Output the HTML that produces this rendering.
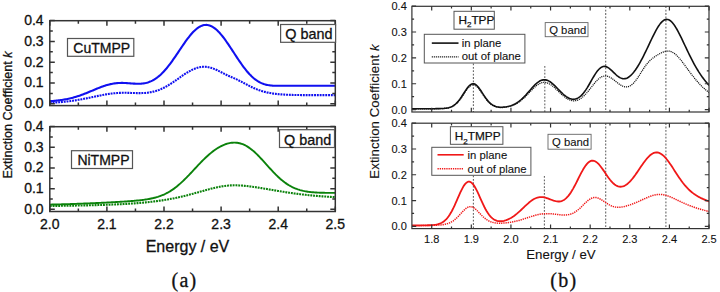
<!DOCTYPE html><html><head><meta charset="utf-8"><style>html,body{margin:0;padding:0;background:#fff;width:720px;height:292px;overflow:hidden}svg{display:block}</style></head><body>
<svg width="720" height="292" viewBox="0 0 720 292">
<style>text{stroke:#111;stroke-width:0.3px}text.r{stroke-width:0.1px}</style>
<rect width="720" height="292" fill="#fff"/>
<defs><clipPath id="cl1"><rect x="49.80" y="20.70" width="285.50" height="84.90"/></clipPath>
<clipPath id="cl2"><rect x="49.80" y="126.70" width="285.50" height="84.80"/></clipPath>
<clipPath id="cr1"><rect x="411.90" y="6.30" width="297.10" height="105.70"/></clipPath>
<clipPath id="cr2"><rect x="411.90" y="123.20" width="297.10" height="105.40"/></clipPath></defs>
<g clip-path="url(#cl1)">
<path d="M49.80,102.86 L50.90,102.80 L52.00,102.74 L53.11,102.68 L54.21,102.62 L55.31,102.54 L56.41,102.47 L57.52,102.39 L58.62,102.31 L59.72,102.22 L60.82,102.12 L61.93,102.02 L63.03,101.92 L64.13,101.81 L65.23,101.69 L66.33,101.57 L67.44,101.44 L68.54,101.31 L69.64,101.17 L70.74,101.03 L71.85,100.88 L72.95,100.72 L74.05,100.55 L75.15,100.39 L76.26,100.21 L77.36,100.03 L78.46,99.84 L79.56,99.65 L80.66,99.45 L81.77,99.25 L82.87,99.05 L83.97,98.83 L85.07,98.62 L86.18,98.40 L87.28,98.18 L88.38,97.95 L89.48,97.72 L90.59,97.49 L91.69,97.26 L92.79,97.03 L93.89,96.80 L94.99,96.56 L96.10,96.33 L97.20,96.10 L98.30,95.87 L99.40,95.65 L100.51,95.43 L101.61,95.21 L102.71,95.00 L103.81,94.79 L104.92,94.59 L106.02,94.40 L107.12,94.22 L108.22,94.05 L109.33,93.88 L110.43,93.73 L111.53,93.58 L112.63,93.45 L113.73,93.33 L114.84,93.22 L115.94,93.13 L117.04,93.05 L118.14,92.98 L119.25,92.92 L120.35,92.87 L121.45,92.84 L122.55,92.82 L123.66,92.81 L124.76,92.81 L125.86,92.81 L126.96,92.83 L128.06,92.85 L129.17,92.88 L130.27,92.91 L131.37,92.94 L132.47,92.98 L133.58,93.01 L134.68,93.05 L135.78,93.07 L136.88,93.10 L137.99,93.11 L139.09,93.12 L140.19,93.11 L141.29,93.10 L142.39,93.06 L143.50,93.02 L144.60,92.95 L145.70,92.87 L146.80,92.76 L147.91,92.64 L149.01,92.49 L150.11,92.31 L151.21,92.11 L152.32,91.89 L153.42,91.63 L154.52,91.35 L155.62,91.04 L156.72,90.69 L157.83,90.32 L158.93,89.92 L160.03,89.48 L161.13,89.02 L162.24,88.52 L163.34,88.00 L164.44,87.45 L165.54,86.87 L166.65,86.26 L167.75,85.62 L168.85,84.97 L169.95,84.28 L171.05,83.58 L172.16,82.86 L173.26,82.13 L174.36,81.38 L175.46,80.61 L176.57,79.84 L177.67,79.07 L178.77,78.29 L179.87,77.51 L180.98,76.73 L182.08,75.96 L183.18,75.20 L184.28,74.46 L185.38,73.73 L186.49,73.02 L187.59,72.34 L188.69,71.68 L189.79,71.05 L190.90,70.45 L192.00,69.90 L193.10,69.38 L194.20,68.90 L195.31,68.46 L196.41,68.08 L197.51,67.74 L198.61,67.45 L199.72,67.21 L200.82,67.02 L201.92,66.89 L203.02,66.81 L204.12,66.79 L205.23,66.82 L206.33,66.91 L207.43,67.05 L208.53,67.24 L209.64,67.48 L210.74,67.76 L211.84,68.10 L212.94,68.47 L214.05,68.89 L215.15,69.34 L216.25,69.82 L217.35,70.32 L218.45,70.85 L219.56,71.40 L220.66,71.95 L221.76,72.51 L222.86,73.07 L223.97,73.62 L225.07,74.17 L226.17,74.70 L227.27,75.22 L228.38,75.73 L229.48,76.22 L230.58,76.70 L231.68,77.18 L232.78,77.66 L233.89,78.14 L234.99,78.63 L236.09,79.13 L237.19,79.64 L238.30,80.17 L239.40,80.72 L240.50,81.28 L241.60,81.85 L242.71,82.43 L243.81,83.01 L244.91,83.60 L246.01,84.19 L247.11,84.77 L248.22,85.35 L249.32,85.91 L250.42,86.46 L251.52,86.99 L252.63,87.51 L253.73,88.01 L254.83,88.49 L255.93,88.95 L257.04,89.39 L258.14,89.81 L259.24,90.20 L260.34,90.58 L261.44,90.93 L262.55,91.26 L263.65,91.58 L264.75,91.87 L265.85,92.14 L266.96,92.40 L268.06,92.64 L269.16,92.86 L270.26,93.06 L271.37,93.25 L272.47,93.43 L273.57,93.59 L274.67,93.74 L275.77,93.88 L276.88,94.00 L277.98,94.11 L279.08,94.22 L280.18,94.31 L281.29,94.40 L282.39,94.48 L283.49,94.55 L284.59,94.62 L285.70,94.68 L286.80,94.73 L287.90,94.78 L289.00,94.82 L290.11,94.86 L291.21,94.89 L292.31,94.92 L293.41,94.95 L294.51,94.97 L295.62,95.00 L296.72,95.02 L297.82,95.03 L298.92,95.05 L300.03,95.06 L301.13,95.08 L302.23,95.09 L303.33,95.10 L304.44,95.11 L305.54,95.11 L306.64,95.12 L307.74,95.13 L308.84,95.13 L309.95,95.14 L311.05,95.14 L312.15,95.14 L313.25,95.15 L314.36,95.15 L315.46,95.15 L316.56,95.15 L317.66,95.16 L318.77,95.16 L319.87,95.16 L320.97,95.16 L322.07,95.16 L323.17,95.17 L324.28,95.17 L325.38,95.17 L326.48,95.17 L327.58,95.17 L328.69,95.17 L329.79,95.17 L330.89,95.17 L331.99,95.17 L333.10,95.17 L334.20,95.17 L335.30,95.18" stroke="#1010f0" stroke-width="2.1" fill="none" stroke-dasharray="1.9 0.9"/>
<path d="M49.80,101.17 L50.90,101.10 L52.00,101.02 L53.11,100.93 L54.21,100.84 L55.31,100.74 L56.41,100.63 L57.52,100.51 L58.62,100.38 L59.72,100.24 L60.82,100.09 L61.93,99.93 L63.03,99.76 L64.13,99.58 L65.23,99.39 L66.33,99.18 L67.44,98.96 L68.54,98.72 L69.64,98.48 L70.74,98.22 L71.85,97.94 L72.95,97.65 L74.05,97.35 L75.15,97.03 L76.26,96.70 L77.36,96.36 L78.46,96.00 L79.56,95.63 L80.66,95.24 L81.77,94.85 L82.87,94.44 L83.97,94.02 L85.07,93.59 L86.18,93.16 L87.28,92.71 L88.38,92.26 L89.48,91.80 L90.59,91.34 L91.69,90.88 L92.79,90.41 L93.89,89.95 L94.99,89.49 L96.10,89.03 L97.20,88.57 L98.30,88.12 L99.40,87.69 L100.51,87.26 L101.61,86.84 L102.71,86.44 L103.81,86.05 L104.92,85.68 L106.02,85.33 L107.12,85.00 L108.22,84.69 L109.33,84.41 L110.43,84.14 L111.53,83.91 L112.63,83.70 L113.73,83.51 L114.84,83.35 L115.94,83.21 L117.04,83.11 L118.14,83.02 L119.25,82.97 L120.35,82.93 L121.45,82.92 L122.55,82.92 L123.66,82.95 L124.76,82.99 L125.86,83.05 L126.96,83.11 L128.06,83.19 L129.17,83.27 L130.27,83.35 L131.37,83.44 L132.47,83.52 L133.58,83.59 L134.68,83.66 L135.78,83.71 L136.88,83.74 L137.99,83.75 L139.09,83.74 L140.19,83.70 L141.29,83.63 L142.39,83.52 L143.50,83.38 L144.60,83.20 L145.70,82.98 L146.80,82.71 L147.91,82.39 L149.01,82.02 L150.11,81.60 L151.21,81.12 L152.32,80.59 L153.42,79.99 L154.52,79.34 L155.62,78.63 L156.72,77.86 L157.83,77.03 L158.93,76.13 L160.03,75.17 L161.13,74.16 L162.24,73.08 L163.34,71.94 L164.44,70.75 L165.54,69.51 L166.65,68.21 L167.75,66.86 L168.85,65.46 L169.95,64.02 L171.05,62.54 L172.16,61.02 L173.26,59.47 L174.36,57.89 L175.46,56.29 L176.57,54.67 L177.67,53.04 L178.77,51.40 L179.87,49.75 L180.98,48.12 L182.08,46.49 L183.18,44.88 L184.28,43.29 L185.38,41.72 L186.49,40.20 L187.59,38.71 L188.69,37.27 L189.79,35.88 L190.90,34.55 L192.00,33.29 L193.10,32.09 L194.20,30.98 L195.31,29.94 L196.41,28.99 L197.51,28.13 L198.61,27.36 L199.72,26.69 L200.82,26.13 L201.92,25.67 L203.02,25.31 L204.12,25.07 L205.23,24.93 L206.33,24.91 L207.43,24.99 L208.53,25.19 L209.64,25.50 L210.74,25.92 L211.84,26.44 L212.94,27.07 L214.05,27.79 L215.15,28.62 L216.25,29.54 L217.35,30.55 L218.45,31.64 L219.56,32.81 L220.66,34.06 L221.76,35.38 L222.86,36.76 L223.97,38.20 L225.07,39.70 L226.17,41.24 L227.27,42.81 L228.38,44.43 L229.48,46.07 L230.58,47.73 L231.68,49.41 L232.78,51.10 L233.89,52.79 L234.99,54.48 L236.09,56.16 L237.19,57.83 L238.30,59.48 L239.40,61.11 L240.50,62.70 L241.60,64.27 L242.71,65.80 L243.81,67.28 L244.91,68.72 L246.01,70.11 L247.11,71.45 L248.22,72.73 L249.32,73.95 L250.42,75.11 L251.52,76.20 L252.63,77.24 L253.73,78.20 L254.83,79.10 L255.93,79.93 L257.04,80.70 L258.14,81.40 L259.24,82.03 L260.34,82.61 L261.44,83.12 L262.55,83.57 L263.65,83.97 L264.75,84.31 L265.85,84.61 L266.96,84.87 L268.06,85.08 L269.16,85.25 L270.26,85.40 L271.37,85.51 L272.47,85.61 L273.57,85.68 L274.67,85.73 L275.77,85.76 L276.88,85.79 L277.98,85.81 L279.08,85.82 L280.18,85.82 L281.29,85.82 L282.39,85.81 L283.49,85.81 L284.59,85.80 L285.70,85.79 L286.80,85.78 L287.90,85.77 L289.00,85.77 L290.11,85.76 L291.21,85.75 L292.31,85.75 L293.41,85.74 L294.51,85.74 L295.62,85.73 L296.72,85.73 L297.82,85.73 L298.92,85.73 L300.03,85.73 L301.13,85.72 L302.23,85.72 L303.33,85.72 L304.44,85.72 L305.54,85.72 L306.64,85.72 L307.74,85.72 L308.84,85.73 L309.95,85.73 L311.05,85.73 L312.15,85.73 L313.25,85.73 L314.36,85.73 L315.46,85.73 L316.56,85.74 L317.66,85.74 L318.77,85.74 L319.87,85.74 L320.97,85.74 L322.07,85.75 L323.17,85.75 L324.28,85.75 L325.38,85.75 L326.48,85.76 L327.58,85.76 L328.69,85.76 L329.79,85.76 L330.89,85.77 L331.99,85.77 L333.10,85.77 L334.20,85.78 L335.30,85.78" stroke="#1010f0" stroke-width="2.1" fill="none"/>
</g><g clip-path="url(#cl2)">
<path d="M49.80,205.96 L50.90,205.95 L52.00,205.94 L53.11,205.92 L54.21,205.91 L55.31,205.90 L56.41,205.88 L57.52,205.87 L58.62,205.85 L59.72,205.84 L60.82,205.82 L61.93,205.81 L63.03,205.79 L64.13,205.77 L65.23,205.76 L66.33,205.74 L67.44,205.72 L68.54,205.70 L69.64,205.69 L70.74,205.67 L71.85,205.65 L72.95,205.63 L74.05,205.61 L75.15,205.59 L76.26,205.57 L77.36,205.55 L78.46,205.53 L79.56,205.51 L80.66,205.49 L81.77,205.46 L82.87,205.44 L83.97,205.42 L85.07,205.39 L86.18,205.37 L87.28,205.34 L88.38,205.32 L89.48,205.29 L90.59,205.27 L91.69,205.24 L92.79,205.21 L93.89,205.18 L94.99,205.15 L96.10,205.12 L97.20,205.09 L98.30,205.06 L99.40,205.03 L100.51,204.99 L101.61,204.96 L102.71,204.92 L103.81,204.89 L104.92,204.85 L106.02,204.81 L107.12,204.77 L108.22,204.73 L109.33,204.69 L110.43,204.65 L111.53,204.61 L112.63,204.56 L113.73,204.52 L114.84,204.47 L115.94,204.42 L117.04,204.37 L118.14,204.32 L119.25,204.27 L120.35,204.21 L121.45,204.16 L122.55,204.10 L123.66,204.04 L124.76,203.98 L125.86,203.92 L126.96,203.85 L128.06,203.79 L129.17,203.72 L130.27,203.65 L131.37,203.57 L132.47,203.50 L133.58,203.42 L134.68,203.34 L135.78,203.26 L136.88,203.17 L137.99,203.09 L139.09,203.00 L140.19,202.90 L141.29,202.81 L142.39,202.71 L143.50,202.61 L144.60,202.50 L145.70,202.39 L146.80,202.28 L147.91,202.17 L149.01,202.05 L150.11,201.93 L151.21,201.80 L152.32,201.68 L153.42,201.54 L154.52,201.41 L155.62,201.27 L156.72,201.12 L157.83,200.97 L158.93,200.82 L160.03,200.66 L161.13,200.50 L162.24,200.34 L163.34,200.16 L164.44,199.99 L165.54,199.81 L166.65,199.63 L167.75,199.44 L168.85,199.24 L169.95,199.04 L171.05,198.84 L172.16,198.63 L173.26,198.42 L174.36,198.20 L175.46,197.97 L176.57,197.74 L177.67,197.51 L178.77,197.27 L179.87,197.02 L180.98,196.77 L182.08,196.52 L183.18,196.26 L184.28,195.99 L185.38,195.72 L186.49,195.45 L187.59,195.17 L188.69,194.89 L189.79,194.60 L190.90,194.31 L192.00,194.01 L193.10,193.71 L194.20,193.41 L195.31,193.11 L196.41,192.80 L197.51,192.49 L198.61,192.18 L199.72,191.87 L200.82,191.55 L201.92,191.24 L203.02,190.93 L204.12,190.62 L205.23,190.31 L206.33,190.00 L207.43,189.69 L208.53,189.39 L209.64,189.10 L210.74,188.81 L211.84,188.52 L212.94,188.25 L214.05,187.98 L215.15,187.72 L216.25,187.47 L217.35,187.23 L218.45,187.00 L219.56,186.79 L220.66,186.59 L221.76,186.40 L222.86,186.22 L223.97,186.06 L225.07,185.92 L226.17,185.79 L227.27,185.67 L228.38,185.57 L229.48,185.49 L230.58,185.42 L231.68,185.37 L232.78,185.34 L233.89,185.32 L234.99,185.31 L236.09,185.32 L237.19,185.34 L238.30,185.38 L239.40,185.43 L240.50,185.49 L241.60,185.56 L242.71,185.65 L243.81,185.74 L244.91,185.84 L246.01,185.96 L247.11,186.08 L248.22,186.20 L249.32,186.34 L250.42,186.48 L251.52,186.62 L252.63,186.78 L253.73,186.93 L254.83,187.09 L255.93,187.26 L257.04,187.43 L258.14,187.60 L259.24,187.77 L260.34,187.95 L261.44,188.13 L262.55,188.31 L263.65,188.49 L264.75,188.68 L265.85,188.86 L266.96,189.05 L268.06,189.24 L269.16,189.43 L270.26,189.61 L271.37,189.80 L272.47,189.99 L273.57,190.18 L274.67,190.37 L275.77,190.55 L276.88,190.74 L277.98,190.92 L279.08,191.11 L280.18,191.29 L281.29,191.47 L282.39,191.65 L283.49,191.82 L284.59,192.00 L285.70,192.17 L286.80,192.34 L287.90,192.51 L289.00,192.68 L290.11,192.84 L291.21,193.00 L292.31,193.16 L293.41,193.31 L294.51,193.46 L295.62,193.61 L296.72,193.76 L297.82,193.90 L298.92,194.04 L300.03,194.18 L301.13,194.32 L302.23,194.45 L303.33,194.58 L304.44,194.70 L305.54,194.82 L306.64,194.94 L307.74,195.06 L308.84,195.17 L309.95,195.29 L311.05,195.39 L312.15,195.50 L313.25,195.60 L314.36,195.70 L315.46,195.80 L316.56,195.89 L317.66,195.99 L318.77,196.08 L319.87,196.16 L320.97,196.25 L322.07,196.33 L323.17,196.41 L324.28,196.49 L325.38,196.57 L326.48,196.64 L327.58,196.71 L328.69,196.78 L329.79,196.85 L330.89,196.92 L331.99,196.98 L333.10,197.04 L334.20,197.10 L335.30,197.16" stroke="#0b820b" stroke-width="2.1" fill="none" stroke-dasharray="1.9 0.9"/>
<path d="M49.80,204.63 L50.90,204.60 L52.00,204.57 L53.11,204.55 L54.21,204.52 L55.31,204.49 L56.41,204.46 L57.52,204.43 L58.62,204.41 L59.72,204.38 L60.82,204.35 L61.93,204.31 L63.03,204.28 L64.13,204.25 L65.23,204.22 L66.33,204.18 L67.44,204.15 L68.54,204.12 L69.64,204.08 L70.74,204.05 L71.85,204.01 L72.95,203.97 L74.05,203.94 L75.15,203.90 L76.26,203.86 L77.36,203.82 L78.46,203.78 L79.56,203.74 L80.66,203.70 L81.77,203.66 L82.87,203.62 L83.97,203.57 L85.07,203.53 L86.18,203.49 L87.28,203.44 L88.38,203.40 L89.48,203.35 L90.59,203.30 L91.69,203.26 L92.79,203.21 L93.89,203.16 L94.99,203.11 L96.10,203.06 L97.20,203.01 L98.30,202.96 L99.40,202.91 L100.51,202.86 L101.61,202.80 L102.71,202.75 L103.81,202.69 L104.92,202.64 L106.02,202.58 L107.12,202.53 L108.22,202.47 L109.33,202.41 L110.43,202.35 L111.53,202.29 L112.63,202.23 L113.73,202.17 L114.84,202.11 L115.94,202.05 L117.04,201.98 L118.14,201.92 L119.25,201.85 L120.35,201.79 L121.45,201.72 L122.55,201.65 L123.66,201.58 L124.76,201.51 L125.86,201.43 L126.96,201.36 L128.06,201.28 L129.17,201.20 L130.27,201.12 L131.37,201.03 L132.47,200.95 L133.58,200.86 L134.68,200.76 L135.78,200.66 L136.88,200.56 L137.99,200.45 L139.09,200.34 L140.19,200.22 L141.29,200.09 L142.39,199.96 L143.50,199.82 L144.60,199.67 L145.70,199.51 L146.80,199.34 L147.91,199.16 L149.01,198.96 L150.11,198.75 L151.21,198.53 L152.32,198.29 L153.42,198.04 L154.52,197.76 L155.62,197.47 L156.72,197.15 L157.83,196.82 L158.93,196.46 L160.03,196.07 L161.13,195.66 L162.24,195.23 L163.34,194.76 L164.44,194.27 L165.54,193.74 L166.65,193.18 L167.75,192.60 L168.85,191.97 L169.95,191.32 L171.05,190.63 L172.16,189.91 L173.26,189.15 L174.36,188.36 L175.46,187.53 L176.57,186.67 L177.67,185.78 L178.77,184.85 L179.87,183.90 L180.98,182.91 L182.08,181.89 L183.18,180.85 L184.28,179.78 L185.38,178.69 L186.49,177.58 L187.59,176.45 L188.69,175.31 L189.79,174.15 L190.90,172.98 L192.00,171.80 L193.10,170.61 L194.20,169.43 L195.31,168.24 L196.41,167.06 L197.51,165.88 L198.61,164.71 L199.72,163.56 L200.82,162.41 L201.92,161.29 L203.02,160.18 L204.12,159.09 L205.23,158.03 L206.33,156.99 L207.43,155.98 L208.53,154.99 L209.64,154.04 L210.74,153.12 L211.84,152.23 L212.94,151.37 L214.05,150.55 L215.15,149.76 L216.25,149.01 L217.35,148.29 L218.45,147.62 L219.56,146.98 L220.66,146.38 L221.76,145.83 L222.86,145.31 L223.97,144.84 L225.07,144.41 L226.17,144.02 L227.27,143.68 L228.38,143.38 L229.48,143.13 L230.58,142.93 L231.68,142.78 L232.78,142.68 L233.89,142.63 L234.99,142.64 L236.09,142.69 L237.19,142.81 L238.30,142.98 L239.40,143.20 L240.50,143.49 L241.60,143.83 L242.71,144.23 L243.81,144.69 L244.91,145.21 L246.01,145.78 L247.11,146.41 L248.22,147.10 L249.32,147.84 L250.42,148.64 L251.52,149.49 L252.63,150.39 L253.73,151.33 L254.83,152.32 L255.93,153.35 L257.04,154.41 L258.14,155.51 L259.24,156.65 L260.34,157.80 L261.44,158.99 L262.55,160.18 L263.65,161.40 L264.75,162.62 L265.85,163.86 L266.96,165.09 L268.06,166.32 L269.16,167.55 L270.26,168.76 L271.37,169.96 L272.47,171.15 L273.57,172.32 L274.67,173.46 L275.77,174.57 L276.88,175.66 L277.98,176.72 L279.08,177.74 L280.18,178.73 L281.29,179.68 L282.39,180.60 L283.49,181.47 L284.59,182.31 L285.70,183.11 L286.80,183.87 L287.90,184.58 L289.00,185.26 L290.11,185.90 L291.21,186.50 L292.31,187.07 L293.41,187.60 L294.51,188.09 L295.62,188.54 L296.72,188.97 L297.82,189.36 L298.92,189.72 L300.03,190.06 L301.13,190.36 L302.23,190.64 L303.33,190.90 L304.44,191.13 L305.54,191.34 L306.64,191.53 L307.74,191.70 L308.84,191.85 L309.95,191.99 L311.05,192.12 L312.15,192.23 L313.25,192.32 L314.36,192.41 L315.46,192.49 L316.56,192.55 L317.66,192.61 L318.77,192.66 L319.87,192.70 L320.97,192.74 L322.07,192.77 L323.17,192.80 L324.28,192.82 L325.38,192.84 L326.48,192.86 L327.58,192.87 L328.69,192.88 L329.79,192.89 L330.89,192.89 L331.99,192.90 L333.10,192.90 L334.20,192.90 L335.30,192.90" stroke="#0b820b" stroke-width="1.9" fill="none"/>
</g>
<path d="M49.80,105.60 v-5.00 M49.80,20.70 v5.00 M106.90,105.60 v-5.00 M106.90,20.70 v5.00 M164.00,105.60 v-5.00 M164.00,20.70 v5.00 M221.10,105.60 v-5.00 M221.10,20.70 v5.00 M278.20,105.60 v-5.00 M278.20,20.70 v5.00 M335.30,105.60 v-5.00 M335.30,20.70 v5.00 M78.35,105.60 v-3.00 M78.35,20.70 v3.00 M135.45,105.60 v-3.00 M135.45,20.70 v3.00 M192.55,105.60 v-3.00 M192.55,20.70 v3.00 M249.65,105.60 v-3.00 M249.65,20.70 v3.00 M306.75,105.60 v-3.00 M306.75,20.70 v3.00 M49.80,103.80 h5.00 M335.30,103.80 h-5.00 M49.80,83.00 h5.00 M335.30,83.00 h-5.00 M49.80,62.20 h5.00 M335.30,62.20 h-5.00 M49.80,41.40 h5.00 M335.30,41.40 h-5.00 M49.80,20.60 h5.00 M335.30,20.60 h-5.00 M49.80,93.40 h3.00 M335.30,93.40 h-3.00 M49.80,72.60 h3.00 M335.30,72.60 h-3.00 M49.80,51.80 h3.00 M335.30,51.80 h-3.00 M49.80,31.00 h3.00 M335.30,31.00 h-3.00 " stroke="#333" stroke-width="1.50" fill="none"/>
<rect x="49.80" y="20.70" width="285.50" height="84.90" fill="none" stroke="#333" stroke-width="1.50"/>
<path d="M49.80,211.50 v-5.00 M49.80,126.70 v5.00 M106.90,211.50 v-5.00 M106.90,126.70 v5.00 M164.00,211.50 v-5.00 M164.00,126.70 v5.00 M221.10,211.50 v-5.00 M221.10,126.70 v5.00 M278.20,211.50 v-5.00 M278.20,126.70 v5.00 M335.30,211.50 v-5.00 M335.30,126.70 v5.00 M78.35,211.50 v-3.00 M78.35,126.70 v3.00 M135.45,211.50 v-3.00 M135.45,126.70 v3.00 M192.55,211.50 v-3.00 M192.55,126.70 v3.00 M249.65,211.50 v-3.00 M249.65,126.70 v3.00 M306.75,211.50 v-3.00 M306.75,126.70 v3.00 M49.80,209.30 h5.00 M335.30,209.30 h-5.00 M49.80,188.63 h5.00 M335.30,188.63 h-5.00 M49.80,167.96 h5.00 M335.30,167.96 h-5.00 M49.80,147.29 h5.00 M335.30,147.29 h-5.00 M49.80,126.62 h5.00 M335.30,126.62 h-5.00 M49.80,198.97 h3.00 M335.30,198.97 h-3.00 M49.80,178.30 h3.00 M335.30,178.30 h-3.00 M49.80,157.62 h3.00 M335.30,157.62 h-3.00 M49.80,136.96 h3.00 M335.30,136.96 h-3.00 " stroke="#333" stroke-width="1.50" fill="none"/>
<rect x="49.80" y="126.70" width="285.50" height="84.80" fill="none" stroke="#333" stroke-width="1.50"/>
<rect x="67.50" y="38.50" width="66.30" height="17.80" fill="#fff" stroke="#555" stroke-width="1.20"/>
<text class="l" x="73.30" y="52.90" font-family='"Liberation Sans", sans-serif' font-size="14.00" text-anchor="start" fill="#111" >CuTMPP</text>
<rect x="280.60" y="24.50" width="55.00" height="17.80" fill="#fff" stroke="#555" stroke-width="1.20"/>
<text class="l" x="285.20" y="39.10" font-family='"Liberation Sans", sans-serif' font-size="14.40" text-anchor="start" fill="#111" >Q band</text>
<rect x="71.50" y="150.70" width="61.00" height="17.80" fill="#fff" stroke="#555" stroke-width="1.20"/>
<text class="l" x="77.40" y="165.20" font-family='"Liberation Sans", sans-serif' font-size="14.00" text-anchor="start" fill="#111" >NiTMPP</text>
<rect x="279.50" y="129.70" width="55.00" height="17.80" fill="#fff" stroke="#555" stroke-width="1.20"/>
<text class="l" x="284.00" y="144.50" font-family='"Liberation Sans", sans-serif' font-size="14.40" text-anchor="start" fill="#111" >Q band</text>
<text class="l" x="43.60" y="108.20" font-family='"Liberation Sans", sans-serif' font-size="14.00" text-anchor="end" fill="#111" >0.0</text>
<text class="l" x="43.60" y="213.70" font-family='"Liberation Sans", sans-serif' font-size="14.00" text-anchor="end" fill="#111" >0.0</text>
<text class="l" x="43.60" y="87.40" font-family='"Liberation Sans", sans-serif' font-size="14.00" text-anchor="end" fill="#111" >0.1</text>
<text class="l" x="43.60" y="193.03" font-family='"Liberation Sans", sans-serif' font-size="14.00" text-anchor="end" fill="#111" >0.1</text>
<text class="l" x="43.60" y="66.60" font-family='"Liberation Sans", sans-serif' font-size="14.00" text-anchor="end" fill="#111" >0.2</text>
<text class="l" x="43.60" y="172.36" font-family='"Liberation Sans", sans-serif' font-size="14.00" text-anchor="end" fill="#111" >0.2</text>
<text class="l" x="43.60" y="45.80" font-family='"Liberation Sans", sans-serif' font-size="14.00" text-anchor="end" fill="#111" >0.3</text>
<text class="l" x="43.60" y="151.69" font-family='"Liberation Sans", sans-serif' font-size="14.00" text-anchor="end" fill="#111" >0.3</text>
<text class="l" x="43.60" y="25.00" font-family='"Liberation Sans", sans-serif' font-size="14.00" text-anchor="end" fill="#111" >0.4</text>
<text class="l" x="43.60" y="131.02" font-family='"Liberation Sans", sans-serif' font-size="14.00" text-anchor="end" fill="#111" >0.4</text>
<text class="l" x="49.80" y="229.00" font-family='"Liberation Sans", sans-serif' font-size="14.00" text-anchor="middle" fill="#111" >2.0</text>
<text class="l" x="106.90" y="229.00" font-family='"Liberation Sans", sans-serif' font-size="14.00" text-anchor="middle" fill="#111" >2.1</text>
<text class="l" x="164.00" y="229.00" font-family='"Liberation Sans", sans-serif' font-size="14.00" text-anchor="middle" fill="#111" >2.2</text>
<text class="l" x="221.10" y="229.00" font-family='"Liberation Sans", sans-serif' font-size="14.00" text-anchor="middle" fill="#111" >2.3</text>
<text class="l" x="278.20" y="229.00" font-family='"Liberation Sans", sans-serif' font-size="14.00" text-anchor="middle" fill="#111" >2.4</text>
<text class="l" x="335.30" y="229.00" font-family='"Liberation Sans", sans-serif' font-size="14.00" text-anchor="middle" fill="#111" >2.5</text>
<text class="l" x="187.50" y="252.00" font-family='"Liberation Sans", sans-serif' font-size="16.00" text-anchor="middle" fill="#111" >Energy / eV</text>
<text transform="translate(12.4,115.0) rotate(-90)" font-family='"Liberation Sans", sans-serif' font-size="12.6" text-anchor="middle" fill="#111">Extinction Coefficient <tspan font-style="italic">k</tspan></text>
<text class="l" x="184.50" y="287.40" font-family='"Liberation Serif", serif' font-size="20.00" text-anchor="middle" fill="#111" letter-spacing="1.3">(a)</text>
<g clip-path="url(#cr1)">
<line x1="473.40" y1="63.50" x2="473.40" y2="112.00" stroke="#666" stroke-width="1.1" stroke-dasharray="1.8 1.6"/>
<line x1="544.80" y1="66.00" x2="544.80" y2="112.00" stroke="#666" stroke-width="1.1" stroke-dasharray="1.8 1.6"/>
<line x1="605.70" y1="6.30" x2="605.70" y2="112.00" stroke="#666" stroke-width="1.1" stroke-dasharray="1.8 1.6"/>
<line x1="665.90" y1="6.30" x2="665.90" y2="112.00" stroke="#666" stroke-width="1.1" stroke-dasharray="1.8 1.6"/>
<path d="M411.80,108.90 L412.95,108.89 L414.11,108.89 L415.26,108.88 L416.41,108.88 L417.56,108.87 L418.72,108.87 L419.87,108.86 L421.02,108.85 L422.17,108.85 L423.33,108.84 L424.48,108.84 L425.63,108.83 L426.78,108.82 L427.94,108.82 L429.09,108.81 L430.24,108.80 L431.39,108.79 L432.55,108.79 L433.70,108.78 L434.85,108.77 L436.00,108.75 L437.16,108.74 L438.31,108.72 L439.46,108.70 L440.61,108.67 L441.77,108.62 L442.92,108.57 L444.07,108.49 L445.22,108.39 L446.38,108.26 L447.53,108.08 L448.68,107.84 L449.83,107.54 L450.99,107.15 L452.14,106.66 L453.29,106.06 L454.44,105.32 L455.60,104.44 L456.75,103.41 L457.90,102.22 L459.05,100.87 L460.21,99.39 L461.36,97.78 L462.51,96.08 L463.66,94.32 L464.82,92.56 L465.97,90.85 L467.12,89.25 L468.27,87.81 L469.43,86.61 L470.58,85.67 L471.73,85.06 L472.88,84.80 L474.04,84.89 L475.19,85.34 L476.34,86.12 L477.49,87.20 L478.65,88.53 L479.80,90.05 L480.95,91.70 L482.10,93.43 L483.26,95.17 L484.41,96.88 L485.56,98.51 L486.71,100.03 L487.87,101.41 L489.02,102.64 L490.17,103.72 L491.32,104.63 L492.48,105.39 L493.63,106.02 L494.78,106.51 L495.93,106.89 L497.09,107.18 L498.24,107.38 L499.39,107.50 L500.54,107.57 L501.70,107.58 L502.85,107.54 L504.00,107.46 L505.15,107.34 L506.31,107.18 L507.46,106.98 L508.61,106.73 L509.76,106.44 L510.92,106.10 L512.07,105.71 L513.22,105.26 L514.37,104.75 L515.53,104.18 L516.68,103.54 L517.83,102.84 L518.98,102.07 L520.14,101.23 L521.29,100.32 L522.44,99.35 L523.59,98.31 L524.75,97.22 L525.90,96.09 L527.05,94.92 L528.20,93.72 L529.36,92.51 L530.51,91.30 L531.66,90.11 L532.81,88.95 L533.97,87.84 L535.12,86.79 L536.27,85.82 L537.42,84.95 L538.58,84.19 L539.73,83.56 L540.88,83.06 L542.03,82.70 L543.19,82.49 L544.34,82.43 L545.49,82.52 L546.64,82.76 L547.80,83.15 L548.95,83.67 L550.10,84.32 L551.25,85.08 L552.41,85.94 L553.56,86.89 L554.71,87.91 L555.86,88.97 L557.02,90.07 L558.17,91.19 L559.32,92.30 L560.47,93.40 L561.63,94.46 L562.78,95.48 L563.93,96.43 L565.08,97.32 L566.24,98.12 L567.39,98.83 L568.54,99.45 L569.69,99.95 L570.85,100.34 L572.00,100.62 L573.15,100.77 L574.30,100.79 L575.46,100.68 L576.61,100.44 L577.76,100.07 L578.91,99.57 L580.07,98.93 L581.22,98.17 L582.37,97.28 L583.52,96.27 L584.68,95.15 L585.83,93.93 L586.98,92.63 L588.13,91.25 L589.29,89.82 L590.44,88.36 L591.59,86.88 L592.74,85.41 L593.90,83.97 L595.05,82.59 L596.20,81.28 L597.35,80.08 L598.51,79.01 L599.66,78.07 L600.81,77.29 L601.96,76.69 L603.12,76.26 L604.27,76.01 L605.42,75.94 L606.57,76.05 L607.73,76.33 L608.88,76.76 L610.03,77.33 L611.18,78.02 L612.34,78.80 L613.49,79.66 L614.64,80.56 L615.79,81.48 L616.95,82.40 L618.10,83.29 L619.25,84.12 L620.40,84.88 L621.56,85.54 L622.71,86.09 L623.86,86.51 L625.01,86.77 L626.17,86.87 L627.32,86.80 L628.47,86.54 L629.62,86.10 L630.78,85.45 L631.93,84.61 L633.08,83.58 L634.23,82.36 L635.39,80.98 L636.54,79.45 L637.69,77.80 L638.84,76.05 L640.00,74.23 L641.15,72.40 L642.30,70.57 L643.45,68.78 L644.61,67.07 L645.76,65.45 L646.91,63.94 L648.06,62.55 L649.22,61.29 L650.37,60.15 L651.52,59.12 L652.67,58.18 L653.83,57.32 L654.98,56.53 L656.13,55.78 L657.28,55.07 L658.44,54.39 L659.59,53.75 L660.74,53.14 L661.89,52.58 L663.05,52.08 L664.20,51.66 L665.35,51.33 L666.50,51.11 L667.66,51.02 L668.81,51.07 L669.96,51.27 L671.11,51.62 L672.27,52.13 L673.42,52.79 L674.57,53.60 L675.72,54.54 L676.88,55.61 L678.03,56.80 L679.18,58.08 L680.33,59.45 L681.49,60.88 L682.64,62.37 L683.79,63.90 L684.94,65.46 L686.10,67.03 L687.25,68.61 L688.40,70.19 L689.55,71.75 L690.71,73.29 L691.86,74.81 L693.01,76.30 L694.16,77.75 L695.32,79.16 L696.47,80.53 L697.62,81.86 L698.77,83.14 L699.93,84.38 L701.08,85.57 L702.23,86.71 L703.38,87.80 L704.54,88.84 L705.69,89.84 L706.84,90.79 L707.99,91.70 L709.15,92.56 L710.30,93.37" stroke="#111" stroke-width="1.25" fill="none" stroke-dasharray="1.1 0.9"/>
<path d="M411.80,108.84 L412.95,108.83 L414.11,108.82 L415.26,108.82 L416.41,108.81 L417.56,108.80 L418.72,108.80 L419.87,108.79 L421.02,108.78 L422.17,108.77 L423.33,108.77 L424.48,108.76 L425.63,108.75 L426.78,108.74 L427.94,108.73 L429.09,108.73 L430.24,108.72 L431.39,108.71 L432.55,108.70 L433.70,108.69 L434.85,108.68 L436.00,108.66 L437.16,108.65 L438.31,108.63 L439.46,108.60 L440.61,108.57 L441.77,108.52 L442.92,108.46 L444.07,108.38 L445.22,108.27 L446.38,108.12 L447.53,107.93 L448.68,107.67 L449.83,107.34 L450.99,106.92 L452.14,106.39 L453.29,105.74 L454.44,104.95 L455.60,104.01 L456.75,102.92 L457.90,101.66 L459.05,100.24 L460.21,98.68 L461.36,97.00 L462.51,95.23 L463.66,93.41 L464.82,91.60 L465.97,89.85 L467.12,88.22 L468.27,86.76 L469.43,85.55 L470.58,84.62 L471.73,84.01 L472.88,83.76 L474.04,83.86 L475.19,84.33 L476.34,85.12 L477.49,86.22 L478.65,87.57 L479.80,89.12 L480.95,90.80 L482.10,92.57 L483.26,94.36 L484.41,96.12 L485.56,97.80 L486.71,99.37 L487.87,100.80 L489.02,102.08 L490.17,103.19 L491.32,104.14 L492.48,104.93 L493.63,105.58 L494.78,106.10 L495.93,106.49 L497.09,106.79 L498.24,106.99 L499.39,107.12 L500.54,107.19 L501.70,107.20 L502.85,107.16 L504.00,107.07 L505.15,106.94 L506.31,106.77 L507.46,106.56 L508.61,106.30 L509.76,106.00 L510.92,105.64 L512.07,105.23 L513.22,104.76 L514.37,104.23 L515.53,103.62 L516.68,102.95 L517.83,102.20 L518.98,101.38 L520.14,100.48 L521.29,99.50 L522.44,98.45 L523.59,97.34 L524.75,96.16 L525.90,94.92 L527.05,93.65 L528.20,92.34 L529.36,91.01 L530.51,89.68 L531.66,88.36 L532.81,87.08 L533.97,85.85 L535.12,84.68 L536.27,83.61 L537.42,82.64 L538.58,81.79 L539.73,81.07 L540.88,80.51 L542.03,80.10 L543.19,79.85 L544.34,79.77 L545.49,79.86 L546.64,80.11 L547.80,80.52 L548.95,81.09 L550.10,81.79 L551.25,82.61 L552.41,83.54 L553.56,84.57 L554.71,85.66 L555.86,86.81 L557.02,87.99 L558.17,89.19 L559.32,90.38 L560.47,91.56 L561.63,92.69 L562.78,93.77 L563.93,94.78 L565.08,95.72 L566.24,96.56 L567.39,97.30 L568.54,97.94 L569.69,98.45 L570.85,98.84 L572.00,99.09 L573.15,99.20 L574.30,99.17 L575.46,98.98 L576.61,98.63 L577.76,98.12 L578.91,97.44 L580.07,96.59 L581.22,95.57 L582.37,94.38 L583.52,93.03 L584.68,91.52 L585.83,89.88 L586.98,88.10 L588.13,86.22 L589.29,84.26 L590.44,82.25 L591.59,80.22 L592.74,78.21 L593.90,76.26 L595.05,74.39 L596.20,72.65 L597.35,71.07 L598.51,69.69 L599.66,68.53 L600.81,67.61 L601.96,66.94 L603.12,66.54 L604.27,66.40 L605.42,66.51 L606.57,66.86 L607.73,67.42 L608.88,68.17 L610.03,69.07 L611.18,70.09 L612.34,71.18 L613.49,72.31 L614.64,73.44 L615.79,74.53 L616.95,75.54 L618.10,76.46 L619.25,77.25 L620.40,77.88 L621.56,78.35 L622.71,78.64 L623.86,78.75 L625.01,78.66 L626.17,78.38 L627.32,77.92 L628.47,77.27 L629.62,76.44 L630.78,75.45 L631.93,74.30 L633.08,73.00 L634.23,71.56 L635.39,69.98 L636.54,68.29 L637.69,66.48 L638.84,64.56 L640.00,62.55 L641.15,60.46 L642.30,58.28 L643.45,56.04 L644.61,53.73 L645.76,51.37 L646.91,48.98 L648.06,46.55 L649.22,44.11 L650.37,41.68 L651.52,39.26 L652.67,36.88 L653.83,34.56 L654.98,32.31 L656.13,30.17 L657.28,28.16 L658.44,26.29 L659.59,24.60 L660.74,23.12 L661.89,21.85 L663.05,20.83 L664.20,20.07 L665.35,19.59 L666.50,19.38 L667.66,19.46 L668.81,19.82 L669.96,20.46 L671.11,21.37 L672.27,22.52 L673.42,23.91 L674.57,25.52 L675.72,27.30 L676.88,29.25 L678.03,31.34 L679.18,33.55 L680.33,35.84 L681.49,38.20 L682.64,40.61 L683.79,43.04 L684.94,45.49 L686.10,47.93 L687.25,50.36 L688.40,52.76 L689.55,55.12 L690.71,57.43 L691.86,59.69 L693.01,61.89 L694.16,64.02 L695.32,66.09 L696.47,68.09 L697.62,70.02 L698.77,71.88 L699.93,73.66 L701.08,75.36 L702.23,77.00 L703.38,78.56 L704.54,80.05 L705.69,81.46 L706.84,82.81 L707.99,84.09 L709.15,85.31 L710.30,86.46" stroke="#111" stroke-width="1.6" fill="none"/>
</g><g clip-path="url(#cr2)">
<line x1="473.40" y1="175.50" x2="473.40" y2="228.60" stroke="#666" stroke-width="1.1" stroke-dasharray="1.8 1.6"/>
<line x1="544.40" y1="176.00" x2="544.40" y2="228.60" stroke="#666" stroke-width="1.1" stroke-dasharray="1.8 1.6"/>
<line x1="605.70" y1="123.20" x2="605.70" y2="228.60" stroke="#666" stroke-width="1.1" stroke-dasharray="1.8 1.6"/>
<line x1="665.90" y1="123.20" x2="665.90" y2="228.60" stroke="#666" stroke-width="1.1" stroke-dasharray="1.8 1.6"/>
<path d="M411.80,225.74 L412.95,225.73 L414.11,225.72 L415.26,225.71 L416.41,225.69 L417.56,225.68 L418.72,225.66 L419.87,225.65 L421.02,225.63 L422.17,225.61 L423.33,225.59 L424.48,225.57 L425.63,225.55 L426.78,225.53 L427.94,225.50 L429.09,225.48 L430.24,225.45 L431.39,225.42 L432.55,225.38 L433.70,225.34 L434.85,225.30 L436.00,225.25 L437.16,225.19 L438.31,225.12 L439.46,225.04 L440.61,224.94 L441.77,224.82 L442.92,224.67 L444.07,224.48 L445.22,224.26 L446.38,223.98 L447.53,223.64 L448.68,223.24 L449.83,222.76 L450.99,222.19 L452.14,221.53 L453.29,220.77 L454.44,219.91 L455.60,218.95 L456.75,217.90 L457.90,216.76 L459.05,215.56 L460.21,214.31 L461.36,213.03 L462.51,211.77 L463.66,210.56 L464.82,209.44 L465.97,208.45 L467.12,207.64 L468.27,207.05 L469.43,206.71 L470.58,206.64 L471.73,206.84 L472.88,207.30 L474.04,207.99 L475.19,208.87 L476.34,209.90 L477.49,211.03 L478.65,212.23 L479.80,213.44 L480.95,214.64 L482.10,215.80 L483.26,216.90 L484.41,217.92 L485.56,218.84 L486.71,219.67 L487.87,220.39 L489.02,221.02 L490.17,221.54 L491.32,221.98 L492.48,222.33 L493.63,222.61 L494.78,222.82 L495.93,222.97 L497.09,223.08 L498.24,223.15 L499.39,223.18 L500.54,223.18 L501.70,223.15 L502.85,223.10 L504.00,223.02 L505.15,222.93 L506.31,222.82 L507.46,222.70 L508.61,222.55 L509.76,222.39 L510.92,222.21 L512.07,222.01 L513.22,221.79 L514.37,221.56 L515.53,221.30 L516.68,221.03 L517.83,220.74 L518.98,220.43 L520.14,220.11 L521.29,219.77 L522.44,219.41 L523.59,219.05 L524.75,218.67 L525.90,218.29 L527.05,217.90 L528.20,217.52 L529.36,217.13 L530.51,216.75 L531.66,216.37 L532.81,216.01 L533.97,215.67 L535.12,215.34 L536.27,215.04 L537.42,214.76 L538.58,214.51 L539.73,214.29 L540.88,214.10 L542.03,213.94 L543.19,213.81 L544.34,213.72 L545.49,213.67 L546.64,213.64 L547.80,213.64 L548.95,213.68 L550.10,213.74 L551.25,213.82 L552.41,213.92 L553.56,214.04 L554.71,214.16 L555.86,214.30 L557.02,214.44 L558.17,214.57 L559.32,214.70 L560.47,214.81 L561.63,214.90 L562.78,214.96 L563.93,214.99 L565.08,214.98 L566.24,214.92 L567.39,214.80 L568.54,214.62 L569.69,214.37 L570.85,214.03 L572.00,213.61 L573.15,213.10 L574.30,212.49 L575.46,211.79 L576.61,210.99 L577.76,210.11 L578.91,209.14 L580.07,208.09 L581.22,206.99 L582.37,205.86 L583.52,204.70 L584.68,203.55 L585.83,202.44 L586.98,201.38 L588.13,200.41 L589.29,199.55 L590.44,198.81 L591.59,198.23 L592.74,197.81 L593.90,197.56 L595.05,197.49 L596.20,197.58 L597.35,197.84 L598.51,198.24 L599.66,198.76 L600.81,199.39 L601.96,200.10 L603.12,200.86 L604.27,201.66 L605.42,202.45 L606.57,203.23 L607.73,203.97 L608.88,204.65 L610.03,205.27 L611.18,205.81 L612.34,206.27 L613.49,206.64 L614.64,206.93 L615.79,207.13 L616.95,207.25 L618.10,207.30 L619.25,207.28 L620.40,207.20 L621.56,207.06 L622.71,206.87 L623.86,206.64 L625.01,206.37 L626.17,206.07 L627.32,205.74 L628.47,205.38 L629.62,205.00 L630.78,204.59 L631.93,204.17 L633.08,203.73 L634.23,203.28 L635.39,202.81 L636.54,202.32 L637.69,201.83 L638.84,201.32 L640.00,200.81 L641.15,200.29 L642.30,199.76 L643.45,199.24 L644.61,198.72 L645.76,198.20 L646.91,197.70 L648.06,197.21 L649.22,196.74 L650.37,196.30 L651.52,195.90 L652.67,195.53 L653.83,195.21 L654.98,194.93 L656.13,194.71 L657.28,194.55 L658.44,194.45 L659.59,194.42 L660.74,194.45 L661.89,194.54 L663.05,194.70 L664.20,194.91 L665.35,195.19 L666.50,195.51 L667.66,195.89 L668.81,196.30 L669.96,196.75 L671.11,197.23 L672.27,197.74 L673.42,198.26 L674.57,198.80 L675.72,199.35 L676.88,199.90 L678.03,200.45 L679.18,201.00 L680.33,201.55 L681.49,202.08 L682.64,202.61 L683.79,203.13 L684.94,203.64 L686.10,204.13 L687.25,204.61 L688.40,205.08 L689.55,205.54 L690.71,205.98 L691.86,206.41 L693.01,206.83 L694.16,207.23 L695.32,207.62 L696.47,208.00 L697.62,208.37 L698.77,208.73 L699.93,209.08 L701.08,209.42 L702.23,209.74 L703.38,210.06 L704.54,210.37 L705.69,210.68 L706.84,210.97 L707.99,211.26 L709.15,211.54 L710.30,211.81" stroke="#f01818" stroke-width="1.5" fill="none" stroke-dasharray="1.3 0.9"/>
<path d="M411.80,225.38 L412.95,225.38 L414.11,225.38 L415.26,225.37 L416.41,225.37 L417.56,225.37 L418.72,225.36 L419.87,225.36 L421.02,225.35 L422.17,225.34 L423.33,225.34 L424.48,225.32 L425.63,225.31 L426.78,225.29 L427.94,225.26 L429.09,225.23 L430.24,225.18 L431.39,225.12 L432.55,225.04 L433.70,224.93 L434.85,224.79 L436.00,224.61 L437.16,224.38 L438.31,224.09 L439.46,223.72 L440.61,223.26 L441.77,222.69 L442.92,222.01 L444.07,221.19 L445.22,220.21 L446.38,219.06 L447.53,217.73 L448.68,216.21 L449.83,214.49 L450.99,212.58 L452.14,210.48 L453.29,208.21 L454.44,205.78 L455.60,203.24 L456.75,200.61 L457.90,197.95 L459.05,195.31 L460.21,192.74 L461.36,190.31 L462.51,188.07 L463.66,186.10 L464.82,184.43 L465.97,183.12 L467.12,182.20 L468.27,181.71 L469.43,181.65 L470.58,182.03 L471.73,182.83 L472.88,184.03 L474.04,185.60 L475.19,187.48 L476.34,189.62 L477.49,191.96 L478.65,194.44 L479.80,197.01 L480.95,199.60 L482.10,202.16 L483.26,204.64 L484.41,207.00 L485.56,209.21 L486.71,211.24 L487.87,213.07 L489.02,214.71 L490.17,216.14 L491.32,217.37 L492.48,218.41 L493.63,219.26 L494.78,219.94 L495.93,220.46 L497.09,220.84 L498.24,221.09 L499.39,221.22 L500.54,221.25 L501.70,221.18 L502.85,221.03 L504.00,220.79 L505.15,220.48 L506.31,220.10 L507.46,219.65 L508.61,219.14 L509.76,218.56 L510.92,217.93 L512.07,217.23 L513.22,216.47 L514.37,215.65 L515.53,214.78 L516.68,213.86 L517.83,212.89 L518.98,211.88 L520.14,210.83 L521.29,209.76 L522.44,208.67 L523.59,207.57 L524.75,206.47 L525.90,205.39 L527.05,204.32 L528.20,203.30 L529.36,202.31 L530.51,201.39 L531.66,200.54 L532.81,199.76 L533.97,199.07 L535.12,198.48 L536.27,197.98 L537.42,197.59 L538.58,197.31 L539.73,197.13 L540.88,197.05 L542.03,197.08 L543.19,197.20 L544.34,197.41 L545.49,197.69 L546.64,198.03 L547.80,198.42 L548.95,198.85 L550.10,199.30 L551.25,199.75 L552.41,200.19 L553.56,200.59 L554.71,200.94 L555.86,201.22 L557.02,201.42 L558.17,201.52 L559.32,201.49 L560.47,201.33 L561.63,201.03 L562.78,200.56 L563.93,199.93 L565.08,199.12 L566.24,198.14 L567.39,196.97 L568.54,195.62 L569.69,194.10 L570.85,192.41 L572.00,190.57 L573.15,188.59 L574.30,186.50 L575.46,184.30 L576.61,182.05 L577.76,179.75 L578.91,177.44 L580.07,175.16 L581.22,172.94 L582.37,170.82 L583.52,168.82 L584.68,166.99 L585.83,165.34 L586.98,163.91 L588.13,162.72 L589.29,161.78 L590.44,161.12 L591.59,160.73 L592.74,160.62 L593.90,160.79 L595.05,161.22 L596.20,161.91 L597.35,162.82 L598.51,163.94 L599.66,165.23 L600.81,166.68 L601.96,168.24 L603.12,169.89 L604.27,171.59 L605.42,173.30 L606.57,175.01 L607.73,176.67 L608.88,178.27 L610.03,179.77 L611.18,181.16 L612.34,182.42 L613.49,183.54 L614.64,184.50 L615.79,185.30 L616.95,185.92 L618.10,186.37 L619.25,186.65 L620.40,186.75 L621.56,186.68 L622.71,186.45 L623.86,186.05 L625.01,185.49 L626.17,184.79 L627.32,183.94 L628.47,182.95 L629.62,181.84 L630.78,180.62 L631.93,179.29 L633.08,177.86 L634.23,176.35 L635.39,174.78 L636.54,173.14 L637.69,171.47 L638.84,169.77 L640.00,168.05 L641.15,166.35 L642.30,164.67 L643.45,163.03 L644.61,161.45 L645.76,159.95 L646.91,158.55 L648.06,157.25 L649.22,156.09 L650.37,155.06 L651.52,154.19 L652.67,153.48 L653.83,152.96 L654.98,152.61 L656.13,152.45 L657.28,152.48 L658.44,152.69 L659.59,153.10 L660.74,153.68 L661.89,154.45 L663.05,155.37 L664.20,156.45 L665.35,157.67 L666.50,159.02 L667.66,160.48 L668.81,162.04 L669.96,163.67 L671.11,165.37 L672.27,167.11 L673.42,168.88 L674.57,170.66 L675.72,172.44 L676.88,174.21 L678.03,175.95 L679.18,177.66 L680.33,179.32 L681.49,180.92 L682.64,182.46 L683.79,183.93 L684.94,185.34 L686.10,186.67 L687.25,187.93 L688.40,189.11 L689.55,190.23 L690.71,191.27 L691.86,192.25 L693.01,193.16 L694.16,194.01 L695.32,194.81 L696.47,195.55 L697.62,196.25 L698.77,196.90 L699.93,197.51 L701.08,198.09 L702.23,198.63 L703.38,199.15 L704.54,199.64 L705.69,200.11 L706.84,200.56 L707.99,201.00 L709.15,201.42 L710.30,201.83" stroke="#f01818" stroke-width="1.8" fill="none"/>
</g>
<path d="M431.70,112.00 v-4.20 M431.70,6.30 v4.20 M471.32,112.00 v-4.20 M471.32,6.30 v4.20 M510.94,112.00 v-4.20 M510.94,6.30 v4.20 M550.56,112.00 v-4.20 M550.56,6.30 v4.20 M590.18,112.00 v-4.20 M590.18,6.30 v4.20 M629.80,112.00 v-4.20 M629.80,6.30 v4.20 M669.42,112.00 v-4.20 M669.42,6.30 v4.20 M709.04,112.00 v-4.20 M709.04,6.30 v4.20 M451.51,112.00 v-2.20 M451.51,6.30 v2.20 M491.13,112.00 v-2.20 M491.13,6.30 v2.20 M530.75,112.00 v-2.20 M530.75,6.30 v2.20 M570.37,112.00 v-2.20 M570.37,6.30 v2.20 M609.99,112.00 v-2.20 M609.99,6.30 v2.20 M649.61,112.00 v-2.20 M649.61,6.30 v2.20 M689.23,112.00 v-2.20 M689.23,6.30 v2.20 M411.90,109.60 h4.20 M709.00,109.60 h-4.20 M411.90,83.73 h4.20 M709.00,83.73 h-4.20 M411.90,57.86 h4.20 M709.00,57.86 h-4.20 M411.90,31.99 h4.20 M709.00,31.99 h-4.20 M411.90,6.12 h4.20 M709.00,6.12 h-4.20 M411.90,96.66 h2.20 M709.00,96.66 h-2.20 M411.90,70.79 h2.20 M709.00,70.79 h-2.20 M411.90,44.92 h2.20 M709.00,44.92 h-2.20 M411.90,19.06 h2.20 M709.00,19.06 h-2.20 " stroke="#333" stroke-width="1.20" fill="none"/>
<rect x="411.90" y="6.30" width="297.10" height="105.70" fill="none" stroke="#333" stroke-width="1.20"/>
<path d="M431.70,228.60 v-4.20 M431.70,123.20 v4.20 M471.32,228.60 v-4.20 M471.32,123.20 v4.20 M510.94,228.60 v-4.20 M510.94,123.20 v4.20 M550.56,228.60 v-4.20 M550.56,123.20 v4.20 M590.18,228.60 v-4.20 M590.18,123.20 v4.20 M629.80,228.60 v-4.20 M629.80,123.20 v4.20 M669.42,228.60 v-4.20 M669.42,123.20 v4.20 M709.04,228.60 v-4.20 M709.04,123.20 v4.20 M451.51,228.60 v-2.20 M451.51,123.20 v2.20 M491.13,228.60 v-2.20 M491.13,123.20 v2.20 M530.75,228.60 v-2.20 M530.75,123.20 v2.20 M570.37,228.60 v-2.20 M570.37,123.20 v2.20 M609.99,228.60 v-2.20 M609.99,123.20 v2.20 M649.61,228.60 v-2.20 M649.61,123.20 v2.20 M689.23,228.60 v-2.20 M689.23,123.20 v2.20 M411.90,226.30 h4.20 M709.00,226.30 h-4.20 M411.90,200.53 h4.20 M709.00,200.53 h-4.20 M411.90,174.76 h4.20 M709.00,174.76 h-4.20 M411.90,148.99 h4.20 M709.00,148.99 h-4.20 M411.90,123.22 h4.20 M709.00,123.22 h-4.20 M411.90,213.42 h2.20 M709.00,213.42 h-2.20 M411.90,187.65 h2.20 M709.00,187.65 h-2.20 M411.90,161.88 h2.20 M709.00,161.88 h-2.20 M411.90,136.11 h2.20 M709.00,136.11 h-2.20 " stroke="#333" stroke-width="1.20" fill="none"/>
<rect x="411.90" y="123.20" width="297.10" height="105.40" fill="none" stroke="#333" stroke-width="1.20"/>
<rect x="454.00" y="11.30" width="40.30" height="17.90" fill="#fff" stroke="#555" stroke-width="1.00"/>
<text x="458.4" y="23.6" font-family='"Liberation Sans", sans-serif' font-size="11.8" fill="#111" class="r" style="stroke-width:0.25px">H<tspan font-size="8" dy="3.8">2</tspan><tspan dy="-3.8">TPP</tspan></text>
<rect x="424.30" y="34.30" width="100.60" height="28.70" fill="#fff" stroke="#555" stroke-width="1.00"/>
<line x1="431.8" y1="43.1" x2="458.5" y2="43.1" stroke="#111" stroke-width="1.6"/>
<line x1="431.8" y1="56.8" x2="458.5" y2="56.8" stroke="#111" stroke-width="1.25" stroke-dasharray="1.1 0.9"/>
<text class="r" x="461.80" y="46.60" font-family='"Liberation Sans", sans-serif' font-size="11.30" text-anchor="start" fill="#111" >in plane</text>
<text class="r" x="461.80" y="60.30" font-family='"Liberation Sans", sans-serif' font-size="11.30" text-anchor="start" fill="#111" >out of plane</text>
<rect x="545.20" y="22.60" width="42.80" height="14.10" fill="#fff" stroke="#666" stroke-width="0.90"/>
<text class="r" x="549.20" y="34.30" font-family='"Liberation Sans", sans-serif' font-size="11.30" text-anchor="start" fill="#111" >Q band</text>
<rect x="450.40" y="126.70" width="52.50" height="17.60" fill="#fff" stroke="#555" stroke-width="1.00"/>
<text x="454.8" y="139.7" font-family='"Liberation Sans", sans-serif' font-size="11.8" fill="#111" class="r" style="stroke-width:0.25px">H<tspan font-size="8" dy="3.8">2</tspan><tspan dy="-3.8">TMPP</tspan></text>
<rect x="431.80" y="147.30" width="99.10" height="28.00" fill="#fff" stroke="#555" stroke-width="1.00"/>
<line x1="437.5" y1="154.8" x2="463.7" y2="154.8" stroke="#f01818" stroke-width="1.6"/>
<line x1="437.5" y1="168.7" x2="463.7" y2="168.7" stroke="#f01818" stroke-width="1.5" stroke-dasharray="1.3 0.9"/>
<text class="r" x="467.60" y="158.50" font-family='"Liberation Sans", sans-serif' font-size="11.30" text-anchor="start" fill="#111" >in plane</text>
<text class="r" x="467.60" y="172.90" font-family='"Liberation Sans", sans-serif' font-size="11.30" text-anchor="start" fill="#111" >out of plane</text>
<rect x="548.00" y="134.30" width="43.10" height="14.90" fill="#fff" stroke="#666" stroke-width="0.90"/>
<text class="r" x="552.00" y="146.40" font-family='"Liberation Sans", sans-serif' font-size="11.30" text-anchor="start" fill="#111" >Q band</text>
<text class="r" x="406.80" y="113.60" font-family='"Liberation Sans", sans-serif' font-size="11.00" text-anchor="end" fill="#111" >0.0</text>
<text class="r" x="406.80" y="230.30" font-family='"Liberation Sans", sans-serif' font-size="11.00" text-anchor="end" fill="#111" >0.0</text>
<text class="r" x="406.80" y="87.73" font-family='"Liberation Sans", sans-serif' font-size="11.00" text-anchor="end" fill="#111" >0.1</text>
<text class="r" x="406.80" y="204.53" font-family='"Liberation Sans", sans-serif' font-size="11.00" text-anchor="end" fill="#111" >0.1</text>
<text class="r" x="406.80" y="61.86" font-family='"Liberation Sans", sans-serif' font-size="11.00" text-anchor="end" fill="#111" >0.2</text>
<text class="r" x="406.80" y="178.76" font-family='"Liberation Sans", sans-serif' font-size="11.00" text-anchor="end" fill="#111" >0.2</text>
<text class="r" x="406.80" y="35.99" font-family='"Liberation Sans", sans-serif' font-size="11.00" text-anchor="end" fill="#111" >0.3</text>
<text class="r" x="406.80" y="152.99" font-family='"Liberation Sans", sans-serif' font-size="11.00" text-anchor="end" fill="#111" >0.3</text>
<text class="r" x="406.80" y="10.12" font-family='"Liberation Sans", sans-serif' font-size="11.00" text-anchor="end" fill="#111" >0.4</text>
<text class="r" x="406.80" y="127.22" font-family='"Liberation Sans", sans-serif' font-size="11.00" text-anchor="end" fill="#111" >0.4</text>
<text class="r" x="431.70" y="243.00" font-family='"Liberation Sans", sans-serif' font-size="11.00" text-anchor="middle" fill="#111" >1.8</text>
<text class="r" x="471.32" y="243.00" font-family='"Liberation Sans", sans-serif' font-size="11.00" text-anchor="middle" fill="#111" >1.9</text>
<text class="r" x="510.94" y="243.00" font-family='"Liberation Sans", sans-serif' font-size="11.00" text-anchor="middle" fill="#111" >2.0</text>
<text class="r" x="550.56" y="243.00" font-family='"Liberation Sans", sans-serif' font-size="11.00" text-anchor="middle" fill="#111" >2.1</text>
<text class="r" x="590.18" y="243.00" font-family='"Liberation Sans", sans-serif' font-size="11.00" text-anchor="middle" fill="#111" >2.2</text>
<text class="r" x="629.80" y="243.00" font-family='"Liberation Sans", sans-serif' font-size="11.00" text-anchor="middle" fill="#111" >2.3</text>
<text class="r" x="669.42" y="243.00" font-family='"Liberation Sans", sans-serif' font-size="11.00" text-anchor="middle" fill="#111" >2.4</text>
<text class="r" x="709.04" y="243.00" font-family='"Liberation Sans", sans-serif' font-size="11.00" text-anchor="middle" fill="#111" >2.5</text>
<text class="r" x="561.00" y="258.70" font-family='"Liberation Sans", sans-serif' font-size="13.30" text-anchor="middle" fill="#111" >Energy / eV</text>
<text transform="translate(378.8,111.5) rotate(-90)" font-family='"Liberation Sans", sans-serif' font-size="13.3" text-anchor="middle" fill="#111" class="r">Extinction Coefficient <tspan font-style="italic">k</tspan></text>
<text class="r" x="563.90" y="287.30" font-family='"Liberation Serif", serif' font-size="20.00" text-anchor="middle" fill="#111" letter-spacing="1.3" style="stroke-width:0.3px">(b)</text>
</svg></body></html>
